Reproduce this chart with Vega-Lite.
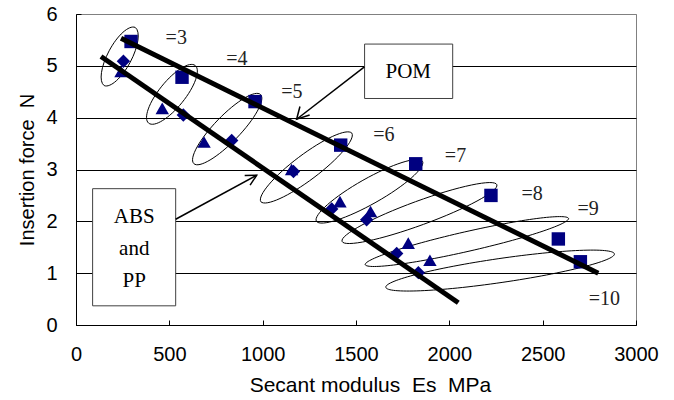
{
  "$schema": "https://vega.github.io/schema/vega-lite/v6.json",
  "width": 560,
  "height": 311,
  "autosize": {"type": "none"},
  "padding": {"left": 76, "top": 14, "right": 38, "bottom": 75},
  "background": "white",
  "config": {
    "view": {"stroke": "#808080", "strokeWidth": 1},
    "font": "Liberation Sans",
    "axis": {
      "labelFont": "Liberation Sans",
      "titleFont": "Liberation Sans",
      "labelColor": "black",
      "titleColor": "black",
      "labelFontSize": 20,
      "titleFontSize": 20,
      "titleFontWeight": "normal",
      "domainColor": "black",
      "tickColor": "black"
    }
  },
  "resolve": {"scale": {"shape": "independent"}, "legend": {"shape": "independent"}},
  "datasets": {
    "markers": [
      {"series": "POM", "x": 295, "y": 5.47},
      {"series": "POM", "x": 568, "y": 4.78},
      {"series": "POM", "x": 959, "y": 4.31},
      {"series": "POM", "x": 1418, "y": 3.47},
      {"series": "POM", "x": 1820, "y": 3.11},
      {"series": "POM", "x": 2223, "y": 2.5},
      {"series": "POM", "x": 2584, "y": 1.66},
      {"series": "POM", "x": 2702, "y": 1.22},
      {"series": "ABS", "x": 241, "y": 4.89},
      {"series": "ABS", "x": 462, "y": 4.18},
      {"series": "ABS", "x": 686, "y": 3.53},
      {"series": "ABS", "x": 1155, "y": 3.0},
      {"series": "ABS", "x": 1414, "y": 2.38},
      {"series": "ABS", "x": 1578, "y": 2.19},
      {"series": "ABS", "x": 1780, "y": 1.58},
      {"series": "ABS", "x": 1896, "y": 1.25},
      {"series": "PP", "x": 254, "y": 5.09},
      {"series": "PP", "x": 575, "y": 4.05},
      {"series": "PP", "x": 834, "y": 3.56},
      {"series": "PP", "x": 1165, "y": 2.96},
      {"series": "PP", "x": 1370, "y": 2.24},
      {"series": "PP", "x": 1557, "y": 2.03},
      {"series": "PP", "x": 1718, "y": 1.38},
      {"series": "PP", "x": 1834, "y": 1.01}
    ],
    "fits": [
      {"series": "POM", "x": 241, "y": 5.53},
      {"series": "POM", "x": 2798, "y": 1.0},
      {"series": "ABS and PP", "x": 134, "y": 5.18},
      {"series": "ABS and PP", "x": 2048, "y": 0.43}
    ],
    "ellipses": [
      {"label": "=3", "x": 234, "y": 5.18},
      {"label": "=4", "x": 514, "y": 4.45},
      {"label": "=5", "x": 810, "y": 3.78},
      {"label": "=6", "x": 1234, "y": 3.04},
      {"label": "=7", "x": 1572, "y": 2.58},
      {"label": "=8", "x": 1840, "y": 2.16},
      {"label": "=9", "x": 2094, "y": 1.61},
      {"label": "=10", "x": 2272, "y": 1.05}
    ],
    "labels": [
      {"label": "=3", "x": 537, "y": 5.53},
      {"label": "=4", "x": 862, "y": 5.14},
      {"label": "=5", "x": 1156, "y": 4.5},
      {"label": "=6", "x": 1649, "y": 3.67},
      {"label": "=7", "x": 2033, "y": 3.26},
      {"label": "=8", "x": 2444, "y": 2.52},
      {"label": "=9", "x": 2743, "y": 2.23},
      {"label": "=10", "x": 2830, "y": 0.5}
    ],
    "boxes": [
      {"name": "POM", "x": 1546, "x2": 2018, "y": 4.37, "y2": 5.42},
      {"name": "ABS and PP", "x": 89, "x2": 534, "y": 0.37, "y2": 2.63}
    ],
    "boxtext": [
      {"text": "POM", "x": 1780, "y": 4.89},
      {"text": "ABS", "x": 312, "y": 2.09},
      {"text": "and", "x": 312, "y": 1.46},
      {"text": "PP", "x": 312, "y": 0.84}
    ],
    "arrows": [
      {"name": "POM", "x": 1545, "y": 4.98, "x2": 1182, "y2": 3.97},
      {"name": "ABS and PP", "x": 534, "y": 2.04, "x2": 968, "y2": 2.89}
    ]
  },
  "layer": [
    {
      "data": {"name": "ellipses"},
      "mark": {"type": "point", "filled": false, "stroke": "black", "strokeWidth": 1, "size": 4, "opacity": 1},
      "encoding": {
        "x": {
          "field": "x", "type": "quantitative",
          "scale": {"domain": [0, 3000], "nice": false, "zero": false},
          "axis": {
            "title": "Secant modulus\u00a0 Es\u00a0 MPa",
            "titleFontSize": 21,
            "titleX": 294,
            "titlePadding": 10,
            "values": [0, 500, 1000, 1500, 2000, 2500, 3000],
            "format": "d",
            "grid": false,
            "tickSize": -5,
            "labelPadding": 24,
            "labelFlush": false
          }
        },
        "y": {
          "field": "y", "type": "quantitative",
          "scale": {"domain": [0, 6], "nice": false, "zero": false},
          "axis": {
            "title": "Insertion force\u00a0 N",
            "values": [0, 1, 2, 3, 4, 5, 6],
            "grid": true,
            "gridColor": {"condition": {"test": "datum.value == 6", "value": "#808080"}, "value": "black"},
            "gridOpacity": 1,
            "tickSize": -5,
            "labelPadding": 24,
            "labelFlush": false,
            "titlePadding": 8
          }
        },
        "shape": {
          "field": "label", "type": "nominal", "legend": null,
          "scale": {
            "domain": ["=3", "=4", "=5", "=6", "=7", "=8", "=9", "=10"],
            "range": [
              "M -15.5 29.1 A 33 12.5 -62 0 1 15.5 -29.1 A 33 12.5 -62 0 1 -15.5 29.1 Z",
              "M -23.3 28.8 A 37 13 -51 0 1 23.3 -28.8 A 37 13 -51 0 1 -23.3 28.8 Z",
              "M -33.4 34.5 A 48 13 -46 0 1 33.4 -34.5 A 48 13 -46 0 1 -33.4 34.5 Z",
              "M -45.5 34.3 A 57 13 -37 0 1 45.5 -34.3 A 57 13 -37 0 1 -45.5 34.3 Z",
              "M -53.1 30 A 61 13 -29.4 0 1 53.1 -30 A 61 13 -29.4 0 1 -53.1 30 Z",
              "M -77.4 28.3 A 82.4 12 -20.1 0 1 77.4 -28.3 A 82.4 12 -20.1 0 1 -77.4 28.3 Z",
              "M -101.7 23.1 A 104.3 10 -12.8 0 1 101.7 -23.1 A 104.3 10 -12.8 0 1 -101.7 23.1 Z",
              "M -114.3 16.7 A 115.5 12 -8.3 0 1 114.3 -16.7 A 115.5 12 -8.3 0 1 -114.3 16.7 Z"
            ]
          }
        }
      }
    },
    {
      "data": {"name": "markers"},
      "mark": {"type": "point", "filled": true, "color": "#000080", "size": 180, "opacity": 1, "strokeWidth": 0},
      "encoding": {
        "x": {"field": "x", "type": "quantitative"},
        "y": {"field": "y", "type": "quantitative"},
        "shape": {
          "field": "series", "type": "nominal", "legend": null,
          "scale": {"domain": ["POM", "ABS", "PP"], "range": ["square", "triangle-up", "diamond"]}
        }
      }
    },
    {
      "data": {"name": "fits"},
      "mark": {"type": "line", "color": "black", "strokeWidth": 5},
      "encoding": {
        "x": {"field": "x", "type": "quantitative"},
        "y": {"field": "y", "type": "quantitative"},
        "detail": {"field": "series", "type": "nominal"}
      }
    },
    {
      "data": {"name": "boxes"},
      "mark": {"type": "rect", "fill": "white", "stroke": "#404040", "strokeWidth": 1},
      "encoding": {
        "x": {"field": "x", "type": "quantitative"},
        "x2": {"field": "x2"},
        "y": {"field": "y", "type": "quantitative"},
        "y2": {"field": "y2"}
      }
    },
    {
      "data": {"name": "boxtext"},
      "mark": {"type": "text", "font": "Liberation Serif", "fontSize": 21, "color": "black", "align": "center", "baseline": "middle"},
      "encoding": {
        "x": {"field": "x", "type": "quantitative"},
        "y": {"field": "y", "type": "quantitative"},
        "text": {"field": "text"}
      }
    },
    {
      "data": {"name": "arrows"},
      "mark": {"type": "rule", "color": "black", "strokeWidth": 1.5},
      "encoding": {
        "x": {"field": "x", "type": "quantitative"},
        "y": {"field": "y", "type": "quantitative"},
        "x2": {"field": "x2"},
        "y2": {"field": "y2"}
      }
    },
    {
      "data": {"name": "arrows"},
      "mark": {"type": "point", "filled": false, "stroke": "black", "strokeWidth": 1.5, "size": 4, "opacity": 1},
      "encoding": {
        "x": {"field": "x2", "type": "quantitative"},
        "y": {"field": "y2", "type": "quantitative"},
        "shape": {
          "field": "name", "type": "nominal", "legend": null,
          "scale": {
            "domain": ["POM", "ABS and PP"],
            "range": ["M 13 -4.3 L 0 0 L 3.3 -12.7", "M -12 0.2 L 0 0 L -6.6 10"]
          }
        }
      }
    },
    {
      "data": {"name": "labels"},
      "mark": {"type": "text", "font": "Liberation Serif", "fontSize": 20, "color": "#222222", "align": "center", "baseline": "middle"},
      "encoding": {
        "x": {"field": "x", "type": "quantitative"},
        "y": {"field": "y", "type": "quantitative"},
        "text": {"field": "label"}
      }
    }
  ]
}
